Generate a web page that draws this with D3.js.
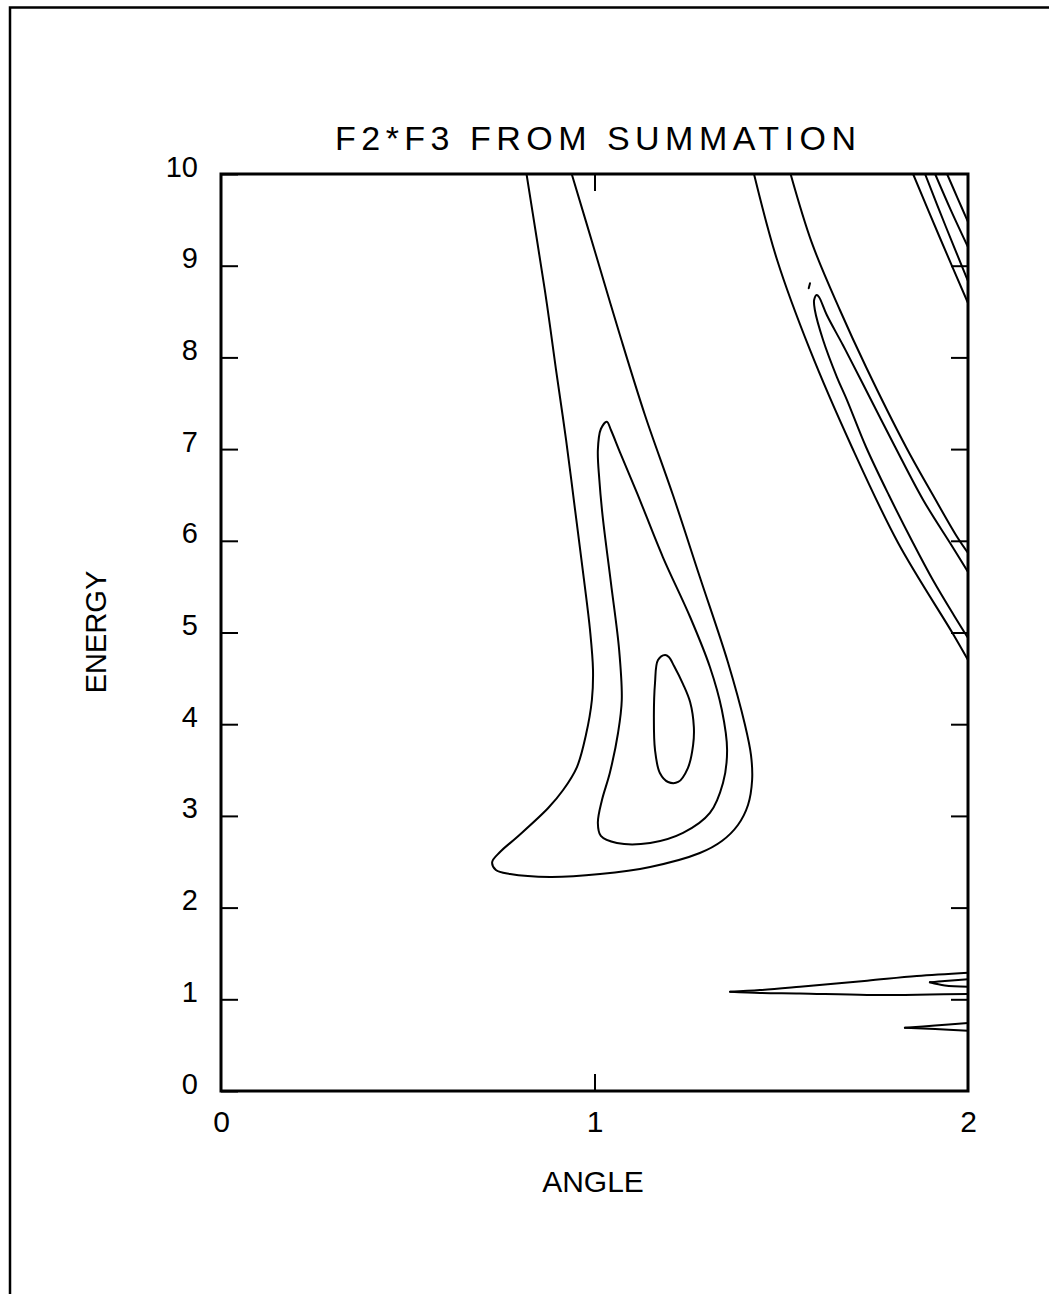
<!DOCTYPE html>
<html>
<head>
<meta charset="utf-8">
<script src="https://cdn.jsdelivr.net/npm/d3@7"></script>
<style>
  html, body { margin: 0; padding: 0; background: #fff; }
  svg { display: block; }
  text { font-family: "Liberation Sans", Arial, sans-serif; fill: #000; }
</style>
</head>
<body>
<svg id="chart" width="1049" height="1294"></svg>
<script>
// Axis ticks and labels
const angleTicks = [0, 1, 2];
const energyTicks = [0, 1, 2, 3, 4, 5, 6, 7, 8, 9, 10];
const titleText = "F2*F3 FROM SUMMATION";
const xTitle = "ANGLE";
const yTitle = "ENERGY";

// Contour lines of F2*F3, each as [angle, energy] points
// Main lobe: outer level (open at the top edge)
const lobeOuter = [
  [0.818, 10.0], [0.846, 9.280], [0.873, 8.571], [0.897, 7.863], [0.924, 7.099],
  [0.948, 6.336], [0.972, 5.572], [0.988, 5.027], [0.996, 4.591], [0.993, 4.264],
  [0.977, 3.882], [0.953, 3.533], [0.916, 3.282], [0.876, 3.086], [0.793, 2.770],
  [0.747, 2.606], [0.726, 2.497], [0.736, 2.410], [0.774, 2.366], [0.881, 2.334],
  [1.015, 2.366], [1.149, 2.443], [1.282, 2.595], [1.341, 2.726], [1.384, 2.901],
  [1.411, 3.119], [1.422, 3.391], [1.419, 3.664], [1.403, 3.991], [1.357, 4.678],
  [1.282, 5.605], [1.210, 6.499], [1.135, 7.372], [1.068, 8.244], [1.004, 9.117],
  [0.939, 10.0]
];
// Main lobe: middle level (closed)
const lobeMiddle = [
  [1.033, 7.299], [1.017, 7.219], [1.009, 6.990], [1.013, 6.663], [1.022, 6.260],
  [1.044, 5.540], [1.066, 4.809], [1.073, 4.264], [1.063, 3.904], [1.041, 3.468],
  [1.020, 3.173], [1.009, 2.923], [1.017, 2.781], [1.060, 2.704], [1.149, 2.704],
  [1.237, 2.814], [1.309, 3.032], [1.344, 3.359], [1.355, 3.719], [1.341, 4.155],
  [1.309, 4.624], [1.256, 5.169], [1.183, 5.823], [1.114, 6.521], [1.068, 6.968],
  [1.044, 7.208]
];
// Main lobe: inner level (closed)
const lobeInner = [
  [1.189, 4.755], [1.170, 4.700], [1.162, 4.449], [1.159, 4.078], [1.162, 3.719],
  [1.175, 3.468], [1.197, 3.370], [1.224, 3.370], [1.250, 3.522], [1.264, 3.773],
  [1.266, 3.969], [1.256, 4.242], [1.237, 4.438], [1.213, 4.635], [1.199, 4.733]
];
// Second ridge: outer level, two branches
const ridgeOuterLeft = [
  [1.427, 10.0], [1.489, 9.062], [1.577, 8.081], [1.689, 7.023], [1.813, 5.976],
  [1.960, 4.984], [2.0, 4.700]
];
const ridgeOuterRight = [
  [1.525, 10.0], [1.582, 9.248], [1.657, 8.517], [1.727, 7.895], [1.834, 7.023],
  [1.906, 6.499], [1.971, 6.041], [2.0, 5.867]
];
// Second ridge: inner level, tip near angle 1.6
const ridgeInner = [
  [2.0, 4.940], [1.965, 5.169], [1.906, 5.572], [1.853, 5.976], [1.788, 6.499],
  [1.727, 7.023], [1.676, 7.535], [1.649, 7.786], [1.612, 8.190], [1.590, 8.517],
  [1.588, 8.626], [1.595, 8.680], [1.601, 8.659], [1.622, 8.462], [1.665, 8.135],
  [1.716, 7.732], [1.805, 7.023], [1.880, 6.445], [1.952, 5.976], [2.0, 5.660]
];
// Isolated fragment above the ridge tip
const ridgeFragment = [[1.5735, 8.754], [1.577, 8.808]];
// Third ridge in the upper right corner
const cornerA = [[1.853, 10.0], [1.925, 9.302], [2.0, 8.593]];
const cornerB = [[1.885, 10.0], [1.941, 9.422], [2.0, 8.833]];
const cornerC = [[1.912, 10.0], [1.954, 9.607], [2.0, 9.204]];
const cornerD = [[1.944, 10.0], [1.972, 9.738], [2.0, 9.477]];
// Narrow low-energy spikes at the right edge, upper and lower edges from the tip
const spikeLongUpper = [[1.363, 1.083], [1.443, 1.101], [1.550, 1.137], [1.730, 1.203], [1.863, 1.254], [2.0, 1.290]];
const spikeLongLower = [[1.363, 1.083], [1.443, 1.069], [1.550, 1.063], [1.730, 1.047], [1.898, 1.052], [2.0, 1.058]];
const spikeInnerUpper = [[1.898, 1.185], [1.938, 1.200], [2.0, 1.218]];
const spikeInnerLower = [[1.898, 1.185], [1.938, 1.150], [2.0, 1.137]];
const spikeLowUpper = [[1.831, 0.690], [1.912, 0.714], [2.0, 0.742]];
const spikeLowLower = [[1.831, 0.690], [1.912, 0.676], [2.0, 0.658]];

const smoothOpen = [lobeOuter, ridgeOuterLeft, ridgeOuterRight, ridgeInner,
                    cornerA, cornerB, cornerC, cornerD,
                    spikeLongUpper, spikeLongLower, spikeInnerUpper, spikeInnerLower,
                    spikeLowUpper, spikeLowLower];
const smoothClosed = [lobeMiddle, lobeInner];
const straight = [ridgeFragment];

const svg = d3.select("#chart");
const plotLeft = 221, plotRight = 968, plotTop = 174, plotBottom = 1091;

const x = d3.scaleLinear().domain([0, 2]).range([plotLeft, plotRight]);
const y = d3.scaleLinear().domain([0, 10]).range([plotBottom, plotTop]);

// Outer page border (top and left edges)
svg.append("path")
  .attr("d", "M10,1294 L10,7.5 L1049,7.5")
  .attr("fill", "none").attr("stroke", "#000").attr("stroke-width", 2.5);

// Title
svg.append("text")
  .attr("x", (plotLeft + plotRight) / 2 + 1).attr("y", 150)
  .attr("text-anchor", "middle")
  .attr("font-size", 34)
  .attr("textLength", 521).attr("lengthAdjust", "spacing")
  .text(titleText);

// Axes with inward ticks
const tickLen = 17;
const gl = svg.append("g").attr("transform", `translate(${plotLeft},0)`)
  .call(d3.axisLeft(y).tickValues(energyTicks).tickFormat(d3.format("d"))
    .tickSizeInner(-tickLen).tickSizeOuter(0).tickPadding(23));
gl.selectAll("text").attr("dy", null).attr("y", 2).attr("font-size", 29)
  .style("font-family", '"Liberation Sans", Arial, sans-serif');

const gr = svg.append("g").attr("transform", `translate(${plotRight},0)`)
  .call(d3.axisRight(y).tickValues(energyTicks.slice(1, -1)).tickSizeInner(-tickLen).tickSizeOuter(0).tickFormat(() => ""));

const gt = svg.append("g").attr("transform", `translate(0,${plotTop})`)
  .call(d3.axisTop(x).tickValues([1]).tickSizeInner(-tickLen).tickSizeOuter(0).tickFormat(() => ""));

const gb = svg.append("g").attr("transform", `translate(0,${plotBottom})`)
  .call(d3.axisBottom(x).tickValues(angleTicks).tickFormat(d3.format("d"))
    .tickSizeInner(-tickLen).tickSizeOuter(0).tickPadding(0));
gb.selectAll("text").attr("dy", null).attr("y", 41).attr("font-size", 30)
  .style("font-family", '"Liberation Sans", Arial, sans-serif');
gb.selectAll(".tick").filter(d => d === 0 || d === 2).select("line").remove();

[gl, gr, gt, gb].forEach(g => {
  g.select(".domain").remove();
  g.selectAll("line").attr("stroke", "#000").attr("stroke-width", 2);
});

// Axis titles
svg.append("text")
  .attr("x", 593).attr("y", 1192)
  .attr("text-anchor", "middle").attr("font-size", 30)
  .text(xTitle);
svg.append("text")
  .attr("transform", "translate(106,632) rotate(-90)")
  .attr("text-anchor", "middle").attr("font-size", 29)
  .text(yTitle);

// Contours, clipped to the plot frame
svg.append("clipPath").attr("id", "plotClip")
  .append("rect").attr("x", plotLeft).attr("y", plotTop)
  .attr("width", plotRight - plotLeft).attr("height", plotBottom - plotTop);

const plot = svg.append("g").attr("clip-path", "url(#plotClip)")
  .attr("fill", "none").attr("stroke", "#000").attr("stroke-width", 2)
  .attr("stroke-linejoin", "round").attr("stroke-linecap", "round");

const lineSmooth = d3.line().x(d => x(d[0])).y(d => y(d[1])).curve(d3.curveCatmullRom.alpha(0.5));
const lineClosed = d3.line().x(d => x(d[0])).y(d => y(d[1])).curve(d3.curveCatmullRomClosed.alpha(0.5));
const lineStraight = d3.line().x(d => x(d[0])).y(d => y(d[1])).curve(d3.curveLinear);

plot.selectAll("path.open").data(smoothOpen).join("path").attr("class", "open").attr("d", lineSmooth);
plot.selectAll("path.closed").data(smoothClosed).join("path").attr("class", "closed").attr("d", lineClosed);
plot.selectAll("path.sharp").data(straight).join("path").attr("class", "sharp").attr("d", lineStraight);

// Plot frame
svg.append("rect")
  .attr("x", plotLeft).attr("y", plotTop)
  .attr("width", plotRight - plotLeft).attr("height", plotBottom - plotTop)
  .attr("fill", "none").attr("stroke", "#000").attr("stroke-width", 3);
</script>
</body>
</html>
